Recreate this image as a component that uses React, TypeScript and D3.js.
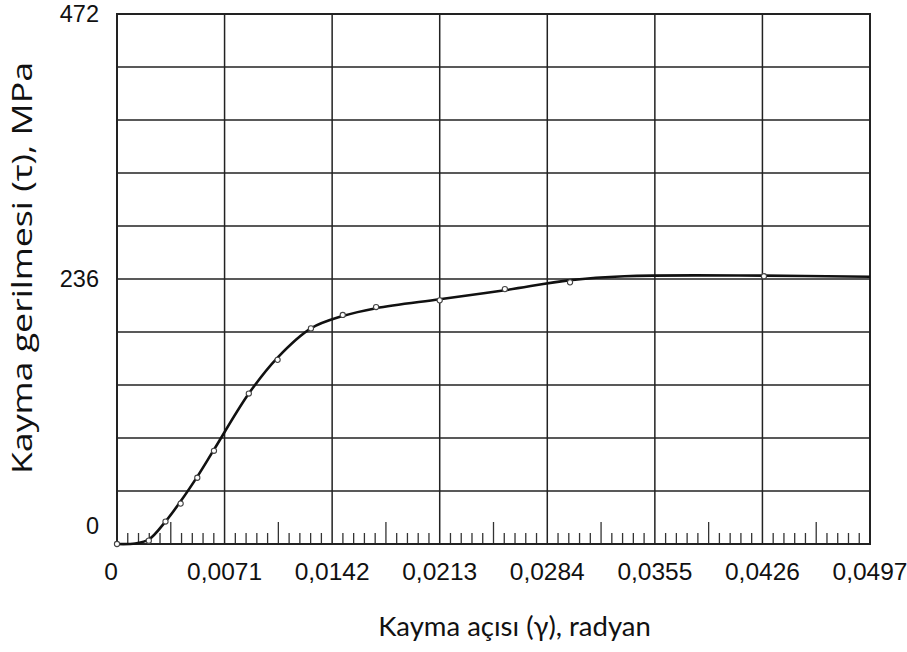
import React from 'react';
import * as d3 from 'd3';

// shear angle (rad) and shear stress (MPa) measured points
const gamma = [0, 0.0021, 0.0032, 0.0042, 0.0053, 0.0064, 0.0087, 0.0106, 0.0128, 0.0149, 0.0171, 0.0213, 0.0256, 0.0299, 0.0427];
const tau = [0, 3, 20, 36, 59, 83, 134, 164, 192, 204, 211, 217, 227, 233, 238.5];

// fitted curve drawn through the points
const curveGamma = [0, 0.0012, 0.0021, 0.0032, 0.0042, 0.0053, 0.0064, 0.0087, 0.0106, 0.0128, 0.0149, 0.0171, 0.0213, 0.0256, 0.0299, 0.0335, 0.0427, 0.0497];
const curveTau = [0, 0.5, 4, 20, 38, 60, 84, 134, 166, 192, 203, 210, 218, 226, 235, 238.5, 239, 238];

const xTicks = [0, 0.0071, 0.0142, 0.0213, 0.0284, 0.0355, 0.0426, 0.0497];
const xTickLabels = ['0', '0,0071', '0,0142', '0,0213', '0,0284', '0,0355', '0,0426', '0,0497'];
const yTicks = [0, 236, 472];
const yTickLabels = ['0', '236', '472'];

const App = () => {
  const width = 907;
  const height = 652;
  const margin = { top: 14, right: 37, bottom: 108, left: 117 };
  const innerW = width - margin.left - margin.right;
  const innerH = height - margin.top - margin.bottom;

  const x = d3.scaleLinear().domain([0, 0.0497]).range([0, innerW]);
  const y = d3.scaleLinear().domain([0, 472]).range([innerH, 0]);

  const yGrid = d3.range(0, 11).map(i => i * 47.2);
  const minor = d3.range(1, 70).filter(i => i % 10 !== 0);

  const line = d3.line()
    .x((d, i) => x(curveGamma[i]))
    .y((d, i) => y(curveTau[i]))
    .curve(d3.curveCatmullRom.alpha(0.5));

  const tickFont = '"Liberation Sans", Arial, sans-serif';
  const titleFont = 'Lato, "Open Sans", sans-serif';

  return (
    <svg width={width} height={height} style={{ position: 'absolute', left: 0, top: 0, background: '#fff' }}>
      <g transform={`translate(${margin.left},${margin.top})`}>
        {/* grid */}
        {yGrid.map(v => (
          <line key={'h' + v} x1={0} x2={innerW} y1={y(v)} y2={y(v)} stroke="#222" strokeWidth={1.5} />
        ))}
        {xTicks.map(v => (
          <line key={'v' + v} x1={x(v)} x2={x(v)} y1={0} y2={innerH} stroke="#222" strokeWidth={1.5} />
        ))}
        {/* minor ticks on bottom */}
        {minor.map(i => (
          <line key={'m' + i} x1={x(i * 0.00071)} x2={x(i * 0.00071)} y1={innerH} y2={innerH - (i % 5 === 0 ? 22 : 11)} stroke="#333" strokeWidth={1.3} />
        ))}
        <rect x={0} y={0} width={innerW} height={innerH} fill="none" stroke="#222" strokeWidth={2} />

        <path d={line(curveGamma) || ''} fill="none" stroke="#111" strokeWidth={2.6} />
        {gamma.map((g, i) => (
          <circle key={'p' + i} cx={x(g)} cy={y(tau[i])} r={2.6} fill="#fff" stroke="#444" strokeWidth={1.1} />
        ))}

        {/* tick labels */}
        {xTicks.map((v, i) => (
          <text key={'xl' + i} x={x(v) - (i === 0 ? 6 : 0)} y={innerH + 36} textAnchor="middle" fontFamily={tickFont} fontSize={24.5} fill="#111">
            {xTickLabels[i]}
          </text>
        ))}
        {yTicks.map((v, i) => (
          <text key={'yl' + i} x={-18} y={y(v) + (i === 0 ? -18 : 0)} dy="0.35em" textAnchor="end" fontFamily={tickFont} fontSize={23.5} fill="#111">
            {yTickLabels[i]}
          </text>
        ))}

        {/* axis titles */}
        <text x={innerW / 2 + 21} y={innerH + 92} textAnchor="middle" fontFamily={titleFont} fontSize={27.5} fill="#111">
          Kayma açısı (γ), radyan
        </text>
        <text transform={`translate(${-85},${innerH / 2 - 11}) rotate(-90)`} textAnchor="middle" fontFamily='"Open Sans", Lato, sans-serif' fontSize={27}
          textLength={412} lengthAdjust="spacingAndGlyphs" fill="#111">
          Kayma gerilmesi (τ), MPa
        </text>
      </g>
    </svg>
  );
};

export default App;
